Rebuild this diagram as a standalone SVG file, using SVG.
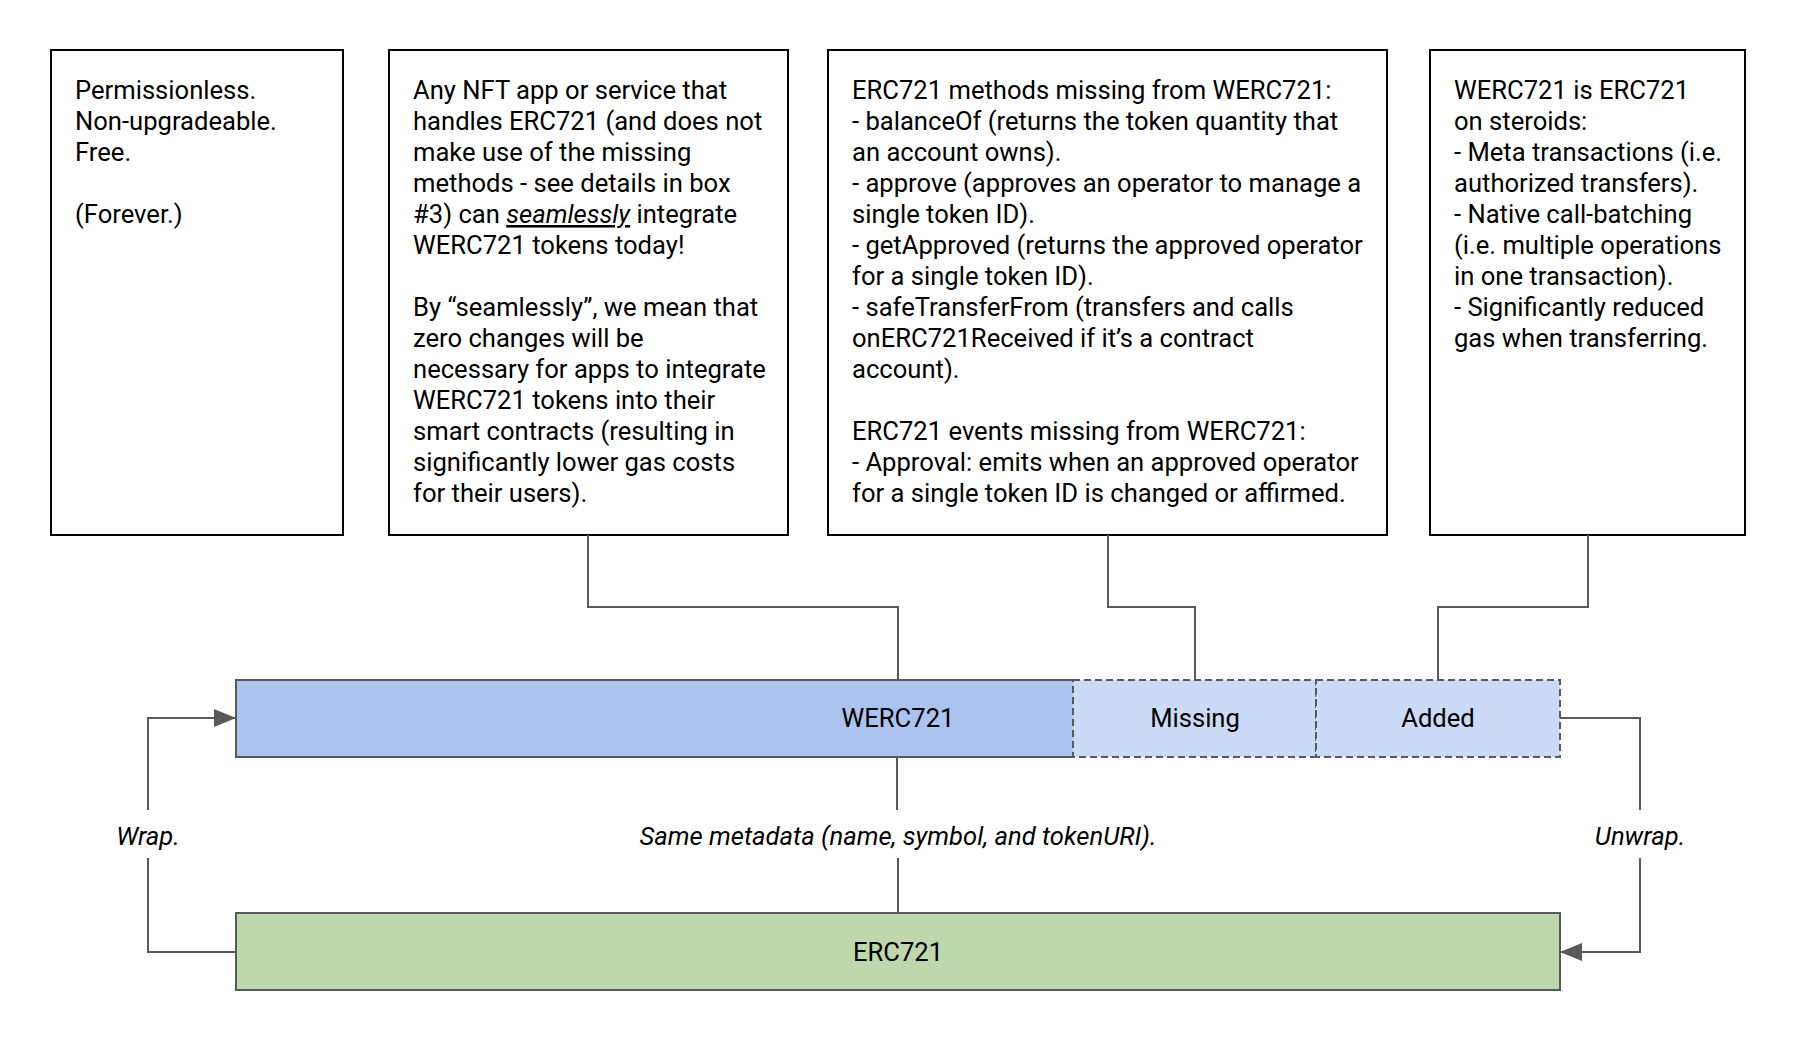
<svg xmlns="http://www.w3.org/2000/svg" width="1798" height="1050" viewBox="0 0 1798 1050">
<style>
  .note { fill: #ffffff; stroke: #000000; stroke-width: 2; }
  .t { font-family: Roboto, "Liberation Sans", sans-serif; font-size: 25.6px; fill: #000000; }
  .c { text-anchor: middle; }
  .i { font-style: italic; }
  .bar { stroke: #595959; stroke-width: 2; }
  .dash { stroke: #595959; stroke-width: 2; stroke-dasharray: 7 4; fill: #cbdbf7; }
  .conn { fill: none; stroke: #595959; stroke-width: 2; }
</style>
<defs>
  <marker id="arrow" markerUnits="userSpaceOnUse" markerWidth="22" markerHeight="18" refX="22" refY="9" orient="auto">
    <path d="M0,0 L22,9 L0,18 Z" fill="#595959"/>
  </marker>
</defs>
<rect width="1798" height="1050" fill="#ffffff"/>

<g id="box1">
  <rect class="note" x="51" y="50" width="292" height="485"/>
  <text class="t">
    <tspan x="75" y="99">Permissionless.</tspan>
    <tspan x="75" y="130">Non-upgradeable.</tspan>
    <tspan x="75" y="161">Free.</tspan>
    <tspan x="75" y="223">(Forever.)</tspan>
  </text>
</g>

<g id="box2">
  <rect class="note" x="389" y="50" width="399" height="485"/>
  <text class="t">
    <tspan x="413" y="99">Any NFT app or service that</tspan>
    <tspan x="413" y="130">handles ERC721 (and does not</tspan>
    <tspan x="413" y="161">make use of the missing</tspan>
    <tspan x="413" y="192">methods - see details in box</tspan>
    <tspan x="413" y="223">#3) can <tspan class="i" text-decoration="underline">seamlessly</tspan> integrate</tspan>
    <tspan x="413" y="254">WERC721 tokens today!</tspan>
    <tspan x="413" y="316">By “seamlessly”, we mean that</tspan>
    <tspan x="413" y="347">zero changes will be</tspan>
    <tspan x="413" y="378">necessary for apps to integrate</tspan>
    <tspan x="413" y="409">WERC721 tokens into their</tspan>
    <tspan x="413" y="440">smart contracts (resulting in</tspan>
    <tspan x="413" y="471">significantly lower gas costs</tspan>
    <tspan x="413" y="502">for their users).</tspan>
  </text>
</g>

<g id="box3">
  <rect class="note" x="828" y="50" width="559" height="485"/>
  <text class="t">
    <tspan x="852" y="99">ERC721 methods missing from WERC721:</tspan>
    <tspan x="852" y="130">- balanceOf (returns the token quantity that</tspan>
    <tspan x="852" y="161">an account owns).</tspan>
    <tspan x="852" y="192">- approve (approves an operator to manage a</tspan>
    <tspan x="852" y="223">single token ID).</tspan>
    <tspan x="852" y="254">- getApproved (returns the approved operator</tspan>
    <tspan x="852" y="285">for a single token ID).</tspan>
    <tspan x="852" y="316">- safeTransferFrom (transfers and calls</tspan>
    <tspan x="852" y="347">onERC721Received if it’s a contract</tspan>
    <tspan x="852" y="378">account).</tspan>
    <tspan x="852" y="440">ERC721 events missing from WERC721:</tspan>
    <tspan x="852" y="471">- Approval: emits when an approved operator</tspan>
    <tspan x="852" y="502">for a single token ID is changed or affirmed.</tspan>
  </text>
</g>

<g id="box4">
  <rect class="note" x="1430" y="50" width="315" height="485"/>
  <text class="t">
    <tspan x="1454" y="99">WERC721 is ERC721</tspan>
    <tspan x="1454" y="130">on steroids:</tspan>
    <tspan x="1454" y="161">- Meta transactions (i.e.</tspan>
    <tspan x="1454" y="192">authorized transfers).</tspan>
    <tspan x="1454" y="223">- Native call-batching</tspan>
    <tspan x="1454" y="254">(i.e. multiple operations</tspan>
    <tspan x="1454" y="285">in one transaction).</tspan>
    <tspan x="1454" y="316">- Significantly reduced</tspan>
    <tspan x="1454" y="347">gas when transferring.</tspan>
  </text>
</g>

<g id="werc721">
  <rect x="236" y="680" width="837" height="77" fill="#aac4ef"/>
  <path class="bar" fill="none" d="M1073,680 H236 V757 H1073"/>
  <text class="t c" x="898" y="727">WERC721</text>
</g>

<g id="missing">
  <rect class="dash" x="1073" y="680" width="243" height="77"/>
  <text class="t c" x="1195" y="727">Missing</text>
</g>

<g id="added">
  <rect class="dash" x="1316" y="680" width="244" height="77"/>
  <text class="t c" x="1438" y="727">Added</text>
</g>

<g id="erc721">
  <rect class="bar" x="236" y="913" width="1324" height="77" fill="#bed7ad"/>
  <text class="t c" x="898" y="961">ERC721</text>
</g>

<g id="connectors">
  <path class="conn" d="M588,535 V607 H898 V680"/>
  <path class="conn" d="M1108,535 V607 H1195 V680"/>
  <path class="conn" d="M1588,535 V607 H1438 V680"/>
  <path class="conn" d="M236,952 H148 V858"/>
  <path class="conn" d="M148,810 V718 H236" marker-end="url(#arrow)"/>
  <path class="conn" d="M1560,718 H1640 V810"/>
  <path class="conn" d="M1640,858 V952 H1560" marker-end="url(#arrow)"/>
  <path class="conn" d="M897,757 V810"/>
  <path class="conn" d="M898,858 V913"/>
</g>

<g id="labels">
  <text class="t c i" x="148" y="845">Wrap.</text>
  <text class="t c i" x="898" y="845">Same metadata (name, symbol, and tokenURI).</text>
  <text class="t c i" x="1640" y="845">Unwrap.</text>
</g>
</svg>
